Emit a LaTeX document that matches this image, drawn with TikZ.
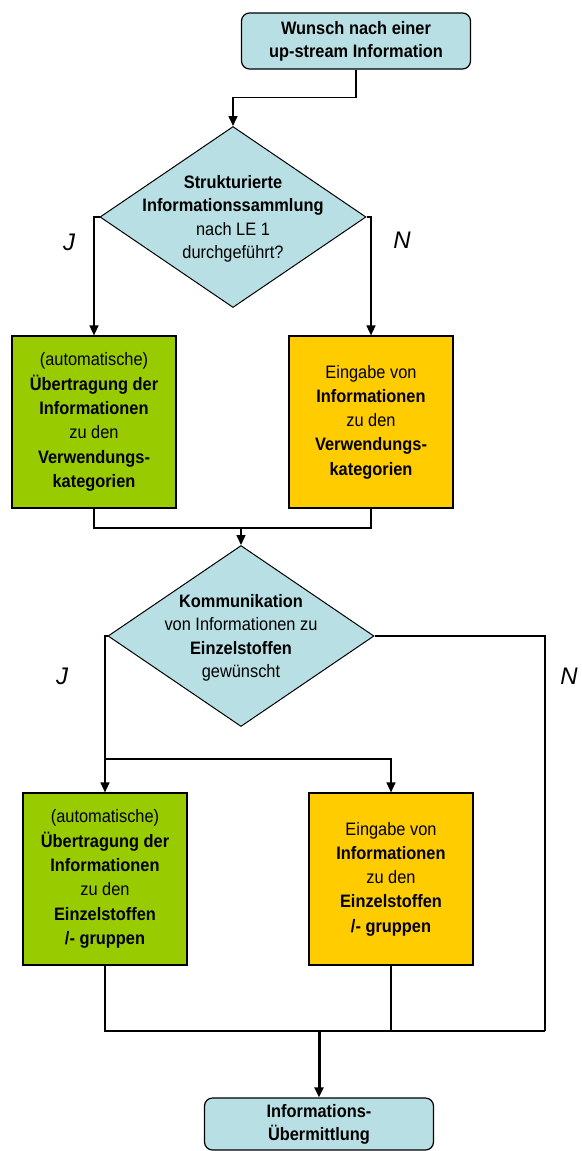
\documentclass[tikz,border=0pt]{standalone}
\usepackage{fontspec}
\setmainfont{Liberation Sans}[FakeStretch=0.91]
\newfontfamily\answerfont{Liberation Sans}
\usetikzlibrary{shapes.geometric,arrows.meta}
\definecolor{flowblue}{RGB}{184,223,227}
\definecolor{flowgreen}{RGB}{153,204,0}
\definecolor{flowgold}{RGB}{255,204,0}
\begin{document}
\begin{tikzpicture}[x=1pt,y=-1pt,line width=1.5pt,
		>={Triangle[length=10pt,width=9pt]},
		terminal/.style={draw,line width=1.2pt,rounded corners=8pt,fill=flowblue,minimum width=229pt,minimum height=56pt,inner sep=0pt,align=center,font=\fontsize{18}{23}\selectfont},
		decision/.style={draw,line width=1pt,diamond,fill=flowblue,minimum width=266pt,minimum height=181pt,inner sep=0pt},
		dtext/.style={align=center,inner sep=0pt,font=\fontsize{18}{23.5}\selectfont},
		autobox/.style={draw,line width=1.2pt,fill=flowgreen,minimum width=164pt,minimum height=172pt,inner sep=0pt,align=center,font=\fontsize{18}{24.3}\selectfont},
		inputbox/.style={autobox,fill=flowgold},
		answer/.style={inner sep=0pt,font=\answerfont\itshape\fontsize{24}{24}\selectfont}]
		\useasboundingbox (0,0) rectangle (581,1151);
		
		% first question
		\node[terminal] (start) at (356,41) {\textbf{Wunsch nach einer}\\\textbf{up-stream Information}};
		\node[decision] (dec1) at (233,217) {};
		\node[dtext] (dec1text) at (233,219) {\textbf{Strukturierte}\\\textbf{Informationssammlung}\\nach LE 1\\durchgeführt?};
		\node[autobox] (box1l) at (94,422) {(automatische)\\\textbf{Übertragung der}\\\textbf{Informationen}\\zu den\\\textbf{Verwendungs-}\\\textbf{kategorien}};
		\node[inputbox] (box1r) at (371,422) {Eingabe von\\\textbf{Informationen}\\zu den\\\textbf{Verwendungs-}\\\textbf{kategorien}};
		\node[answer] (j1) at (69,242) {J};
		\node[answer] (n1) at (402,240) {N};
		
		% second question
		\node[decision] (dec2) at (241,636) {};
		\node[dtext] (dec2text) at (241,638) {\textbf{Kommunikation}\\von Informationen zu\\\textbf{Einzelstoffen}\\gewünscht};
		\node[autobox] (box2l) at (105,879) {(automatische)\\\textbf{Übertragung der}\\\textbf{Informationen}\\zu den\\\textbf{Einzelstoffen}\\\textbf{/- gruppen}};
		\node[inputbox] (box2r) at (391,879) {Eingabe von\\\textbf{Informationen}\\zu den\\\textbf{Einzelstoffen}\\\textbf{/- gruppen}};
		\node[answer] (j2) at (62,676) {J};
		\node[answer] (n2) at (569,676) {N};
		\node[terminal,minimum height=52pt] (stop) at (319,1124) {\textbf{Informations-}\\\textbf{Übermittlung}};
		
		\coordinate (join1) at (241,528);
		\coordinate (split2) at (105,759);
		\coordinate (join2) at (319,1031);
		\coordinate (bypass) at (545,1031);
		
		\draw[->] (start.south) -- ++(0,28) -| (dec1.north);
		\draw[->] (dec1.west) -| (box1l.north);
		\draw[->] (dec1.east) -| (box1r.north);
		\draw (box1l.south) |- (join1) -| (box1r.south);
		\draw[->] (join1) -- (dec2.north);
		\draw (dec2.west) -| (split2);
		\draw[->] (split2) -- (box2l.north);
		\draw[->] (split2) -| (box2r.north);
		\draw (dec2.east) -| (bypass);
		\draw (box2l.south) |- (bypass);
		\draw (box2r.south) -- (box2r.south |- join2);
		\draw[->,line width=3pt] (join2) -- (stop.north);
	\end{tikzpicture}
\end{document}
